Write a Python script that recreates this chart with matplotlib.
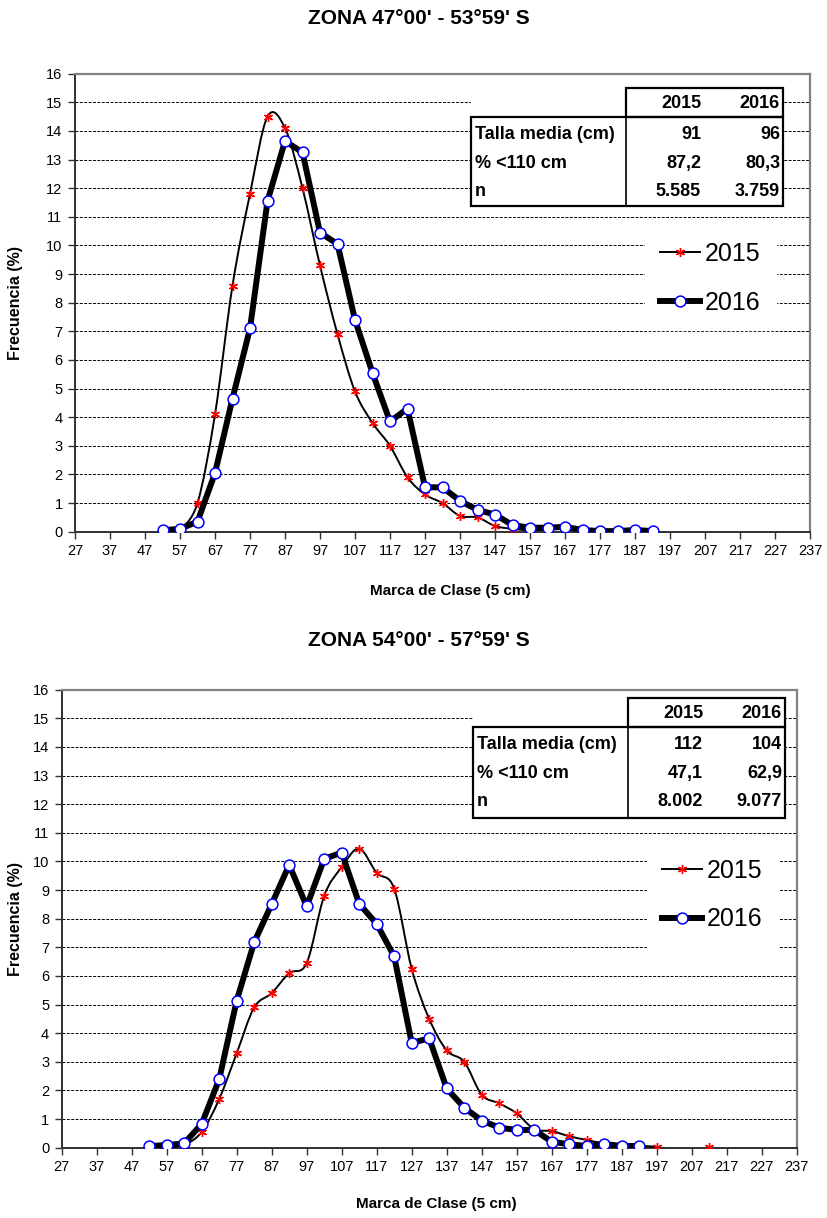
import numpy as np
import matplotlib
matplotlib.use("Agg")
import matplotlib.pyplot as plt
from matplotlib.path import Path
from matplotlib.patches import PathPatch, Rectangle
from matplotlib.lines import Line2D

plt.rcParams['font.family'] = ['Liberation Sans', 'DejaVu Sans']

# marca de clase (cm)
marca = [52, 57, 62, 67, 72, 77, 82, 87, 92, 97, 102, 107, 112, 117, 122, 127,
         132, 137, 142, 147, 152, 157, 162, 167, 172, 177, 182, 187, 192, 197,
         202, 207, 212]
nan = np.nan

# zona 47°00' - 53°59' S
top_2015 = [nan, 0.05, 1.0, 4.1, 8.6, 11.8, 14.5, 14.1, 12.0, 9.3, 6.9, 4.9, 3.8,
            3.0, 1.9, 1.3, 1.0, 0.55, 0.5, 0.2, 0.1, 0.05, 0.08, 0.1, 0.05, 0.03,
            0.02, 0.02, nan, nan, nan, nan, nan]
top_2016 = [0.05, 0.1, 0.35, 2.05, 4.65, 7.1, 11.55, 13.65, 13.25, 10.45, 10.05,
            7.4, 5.55, 3.85, 4.3, 1.55, 1.55, 1.08, 0.76, 0.6, 0.23, 0.14, 0.14,
            0.17, 0.06, 0.02, 0.02, 0.06, 0.02, nan, nan, nan, nan]

# zona 54°00' - 57°59' S
bot_2015 = [nan, 0.0, 0.1, 0.55, 1.7, 3.3, 4.9, 5.4, 6.1, 6.45, 8.8, 9.8, 10.45,
            9.6, 9.05, 6.25, 4.5, 3.4, 3.0, 1.85, 1.55, 1.2, 0.65, 0.58, 0.4, 0.27,
            0.15, 0.09, 0.07, 0.03, nan, nan, 0.03]
bot_2016 = [0.06, 0.09, 0.15, 0.83, 2.39, 5.14, 7.18, 8.51, 9.88, 8.43, 10.09,
            10.31, 8.52, 7.82, 6.68, 3.66, 3.82, 2.07, 1.40, 0.95, 0.70, 0.62, 0.62,
            0.21, 0.12, 0.06, 0.13, 0.06, 0.06, nan, nan, nan, nan]

anos = ['2015', '2016']
filas = ['Talla media (cm)', '% <110 cm', 'n']
top_talla = [91, 96]
top_pct = [87.2, 80.3]
top_n = [5585, 3759]
bot_talla = [112, 104]
bot_pct = [47.1, 62.9]
bot_n = [8002, 9077]

titulos = ["ZONA 47°00' - 53°59' S", "ZONA 54°00' - 57°59' S"]

W, H = 827, 1218


def fx(px):
    return px / W


def fy(py):
    return 1 - py / H


def smooth_path(xs, ys):
    # excel-like smoothed line: catmull-rom segments as bezier curves
    verts, codes = [], []
    seg = []
    segs = []
    for x, y in zip(xs, ys):
        if np.isnan(y):
            if seg:
                segs.append(seg)
            seg = []
        else:
            seg.append(np.array([x, y], float))
    if seg:
        segs.append(seg)
    for pts in segs:
        n = len(pts)
        if n < 2:
            continue
        verts.append(pts[0]); codes.append(Path.MOVETO)
        for i in range(n - 1):
            p0 = pts[i - 1] if i > 0 else pts[i]
            p1, p2 = pts[i], pts[i + 1]
            p3 = pts[i + 2] if i + 2 < n else pts[i + 1]
            c1 = p1 + (p2 - p0) / 6
            c2 = p2 - (p3 - p1) / 6
            verts += [c1, c2, p2]
            codes += [Path.CURVE4] * 3
    return Path(verts, codes)


fig = plt.figure(figsize=(W / 100, H / 100), dpi=100)

# left px, bottom px, table/legend offsets, title y, xlabel top
panels = [
    dict(left=75, base=531.7, s15=top_2015, s16=top_2016, talla=top_talla,
         pct=top_pct, n=top_n, title_y=18, dy=0, dx=0, ldy=0, xl_top=584),
    dict(left=61.7, base=1147.7, s15=bot_2015, s16=bot_2016, talla=bot_talla,
         pct=bot_pct, n=bot_n, title_y=640, dy=610, dx=2, ldy=617, xl_top=1197),
]

for k, p in enumerate(panels):
    ax = fig.add_axes([fx(p['left']), fy(p['base']), 735 / W, 458 / H])
    ax.set_xlim(27, 237)
    ax.set_ylim(0, 16)
    ax.set_xticks(range(27, 238, 10))
    ax.set_yticks(range(0, 17))
    for yv in range(1, 16):
        ax.axhline(yv, color='black', lw=0.7, ls=(0, (3, 1.5)), zorder=1)
    for side in ['top', 'right']:
        ax.spines[side].set_color('#808080')
        ax.spines[side].set_linewidth(1.6)
    for side in ['left', 'bottom']:
        ax.spines[side].set_color('#303030')
        ax.spines[side].set_linewidth(1.4)
    ax.tick_params(direction='out', length=5, width=1, labelsize=10.5, pad=4,
                   colors='#303030', labelcolor='black')

    # 2015 smoothed thin line + red star markers
    ax.add_patch(PathPatch(smooth_path(marca, p['s15']), fill=False, ec='black',
                           lw=1.4, zorder=3))
    ax.plot(marca, p['s15'], ls='none', marker=(6, 2, 0), ms=6.5, mec='red',
            mew=1.0, zorder=4)
    # 2016 thick line + open blue circles
    ax.plot(marca, p['s16'], color='black', lw=4.3, marker='o', ms=7.8,
            mfc='white', mec='blue', mew=1.1, zorder=5, solid_joinstyle='round')

    ax.set_ylabel('Frecuencia (%)', fontsize=11.5, fontweight='bold')
    ax.yaxis.set_label_coords(-(p['left'] - 23) / 735, 0.5)
    ax.set_xlabel('Marca de Clase (5 cm)', fontsize=11, fontweight='bold')
    ax.xaxis.set_label_coords(0.51, -(p['xl_top'] - p['base']) / 458)

    fig.text(0.506, fy(p['title_y']), titulos[k], ha='center', va='center',
             fontsize=15, fontweight='bold')

    # legend
    handles = [Line2D([], [], color='black', lw=1.4, marker=(6, 2, 0), ms=6.5,
                      mec='red', mew=1.0),
               Line2D([], [], color='black', lw=4.3, marker='o', ms=7.8,
                      mfc='white', mec='blue', mew=1.1)]
    ax.legend(handles, anos, loc='center left',
              bbox_to_anchor=(fx(645 + p['dx']), fy(278 + p['ldy'])),
              bbox_transform=fig.transFigure, fontsize=18, frameon=True,
              fancybox=False, facecolor='white', edgecolor='white',
              framealpha=1, handlelength=1.6, handletextpad=0.2,
              labelspacing=1.0, borderpad=0.6, borderaxespad=0)

    # table
    dy, dx = p['dy'], p['dx']
    top = 88.3 + dy
    hdr = 117.3 + dy
    bot = 206 + dy + (2 if k else 0)
    x0, xm, x1 = 470.7 + dx, 625.7 + dx, 783 + dx
    fig.add_artist(Rectangle((fx(x0), fy(bot)), (x1 - x0) / W, (bot - top) / H,
                             transform=fig.transFigure, fc='white', ec='none',
                             zorder=2))
    fig.add_artist(Rectangle((fx(xm), fy(hdr)), (x1 - xm) / W, (hdr - top) / H,
                             transform=fig.transFigure, fc='none', ec='black',
                             lw=1.6, zorder=3))
    fig.add_artist(Rectangle((fx(x0), fy(bot)), (x1 - x0) / W, (bot - hdr) / H,
                             transform=fig.transFigure, fc='none', ec='black',
                             lw=1.6, zorder=3))
    fig.add_artist(Line2D([fx(xm), fx(xm)], [fy(hdr), fy(bot)],
                          transform=fig.transFigure, color='black', lw=1.2,
                          zorder=3))
    col_r = [701 + dx, 780 + dx]
    row_y = [134.3 + dy, 163.3 + dy, 191.7 + dy]
    vals = [[str(v) for v in p['talla']],
            [f"{v:.1f}".replace('.', ',') for v in p['pct']],
            [f"{v:,}".replace(',', '.') for v in p['n']]]
    for j, a in enumerate(anos):
        fig.text(fx(col_r[j]), fy(104 + dy), a, ha='right', va='center',
                 fontsize=13, fontweight='bold', zorder=4)
    for i, lab in enumerate(filas):
        fig.text(fx(475 + dx), fy(row_y[i]), lab, ha='left', va='center',
                 fontsize=13, fontweight='bold', zorder=4)
        for j in range(2):
            fig.text(fx(col_r[j]), fy(row_y[i]), vals[i][j], ha='right',
                     va='center', fontsize=13, fontweight='bold', zorder=4)

fig.savefig('out.png', dpi=100)
